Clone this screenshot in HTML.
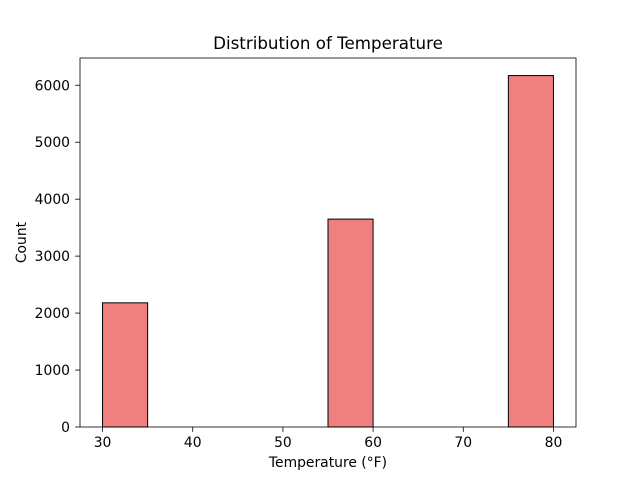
<!DOCTYPE html>
<html><head><meta charset="utf-8"><style>
body{margin:0;background:#fff;}
svg text{font-family:"DejaVu Sans","Liberation Sans",sans-serif;fill:#000;}
</style></head><body>
<svg id="chart" width="640" height="480" viewBox="0 0 640 480">
<rect width="640" height="480" fill="#fff"/>
<text x="328" y="49" font-size="16.7" text-anchor="middle">Distribution of Temperature</text>
<g id="bars"></g>
<g id="xticks"></g>
<g id="yticks"></g>
<rect x="80" y="58" width="496" height="369" fill="none" stroke="#000" stroke-width="0.8"/>
<text x="328" y="467" font-size="13.9" text-anchor="middle">Temperature (°F)</text>
<text x="26" y="242.5" font-size="13.9" text-anchor="middle" transform="rotate(-90 26 242.5)">Count</text>
</svg>
<script>
const binStarts=[30,35,40,45,50,55,60,65,70,75];
const binWidth=5;
const counts=[2180,0,0,0,0,3650,0,0,0,6170];
const xTickVals=[30,40,50,60,70,80];
const yTickVals=[0,1000,2000,3000,4000,5000,6000];
const L=80,R=576,T=58,B=427;
const xMin=27.5,xMax=82.5;
const yMax=Math.max(...counts)*1.05;
const xs=v=>L+(v-xMin)/(xMax-xMin)*(R-L);
const ys=v=>B-v/yMax*(B-T);
const NS="http://www.w3.org/2000/svg";
const bars=document.getElementById('bars');
binStarts.forEach((s,i)=>{
  if(counts[i]<=0)return;
  const r=document.createElementNS(NS,'rect');
  r.setAttribute('x',xs(s));r.setAttribute('width',xs(s+binWidth)-xs(s));
  r.setAttribute('y',ys(counts[i]));r.setAttribute('height',B-ys(counts[i]));
  r.setAttribute('fill','#f08080');r.setAttribute('stroke','#000');r.setAttribute('stroke-width','1');
  
  
  bars.appendChild(r);
});
const xg=document.getElementById('xticks');
xTickVals.forEach(v=>{
  const x=xs(v);
  const l=document.createElementNS(NS,'line');
  l.setAttribute('x1',x);l.setAttribute('x2',x);l.setAttribute('y1',B);l.setAttribute('y2',B+4.9);l.setAttribute('stroke','#000');l.setAttribute('stroke-width','0.8');
  
  
  xg.appendChild(l);
  const t=document.createElementNS(NS,'text');
  t.setAttribute('x',x);t.setAttribute('y',B+20);t.setAttribute('font-size','13.9');t.setAttribute('text-anchor','middle');t.textContent=v;
  
  
  xg.appendChild(t);
});
const yg=document.getElementById('yticks');
yTickVals.forEach(v=>{
  const y=ys(v);
  const l=document.createElementNS(NS,'line');
  l.setAttribute('x1',L-4.9);l.setAttribute('x2',L);l.setAttribute('y1',y);l.setAttribute('y2',y);l.setAttribute('stroke','#000');l.setAttribute('stroke-width','0.8');
  
  
  yg.appendChild(l);
  const t=document.createElementNS(NS,'text');
  t.setAttribute('x',L-10);t.setAttribute('y',y+5);t.setAttribute('font-size','13.9');t.setAttribute('text-anchor','end');t.textContent=v;
  
  
  yg.appendChild(t);
});
</script>
</body></html>
